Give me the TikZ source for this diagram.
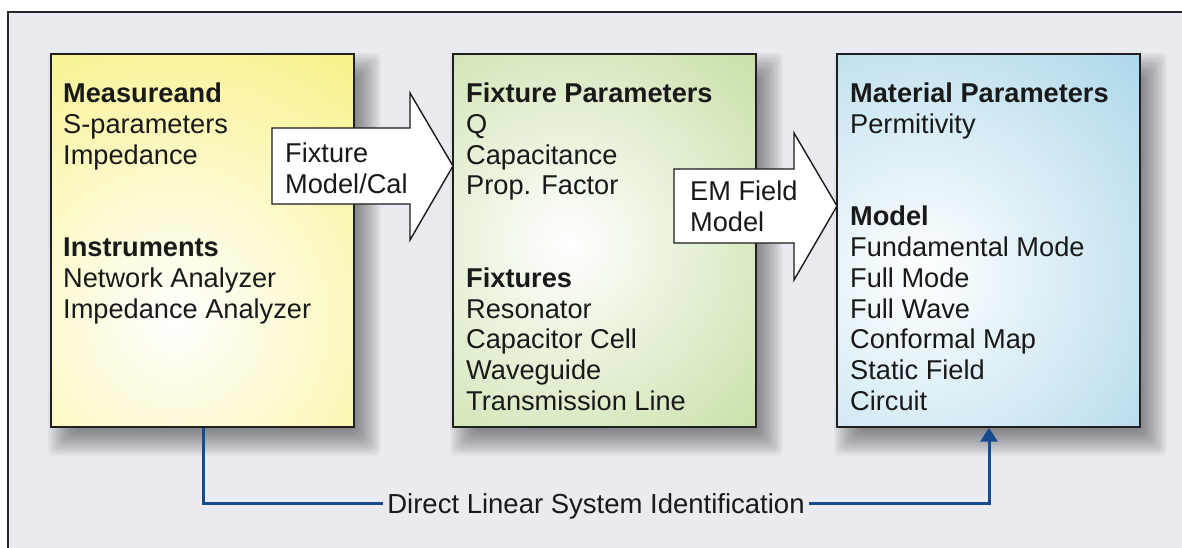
\documentclass[tikz,border=0pt]{standalone}
\usepackage{fontspec}
\setmainfont{Liberation Sans}
\usetikzlibrary{arrows.meta,calc}
\definecolor{bgcol}{RGB}{233,235,240}
\definecolor{ycol}{RGB}{247,240,122}
\definecolor{gcol}{RGB}{182,213,138}
\definecolor{bcol}{RGB}{160,209,230}
\definecolor{conncol}{RGB}{22,76,142}
\definecolor{framecol}{RGB}{40,40,40}
\pgfdeclarelayer{back}
\pgfdeclarelayer{shadowlayer}
\pgfsetlayers{back,shadowlayer,main}
\tikzset{
  box/.style={draw=black!88, line width=1.7pt, rectangle, inner sep=0pt, anchor=north west,
    minimum width=303pt, minimum height=373pt},
  shadebox/.style n args={3}{box, fill=#1, path picture={
    \shade[inner color=white, outer color=#1] ($(path picture bounding box.north west)+(#2,#3)$) circle (360);}},
  shadowlayerfill/.style={fill=black!80, opacity=0.05, rounded corners=6pt},
  boxtxt/.style={anchor=north west, align=left, inner sep=0pt, font=\fontsize{27.2}{30.8}\selectfont, text=black!90},
  blockarrow/.style={draw=black!90, fill=white, line width=1.4pt, line join=miter},
  arrtxt/.style={anchor=base west, align=left, inner sep=0pt, font=\fontsize{27.2}{30.8}\selectfont, text=black!90},
  conn/.style={draw=conncol, line width=3pt},
  lbl/.style={font=\fontsize{27.5}{32}\selectfont, inner xsep=4pt, inner ysep=0pt, text height=19.5pt, text depth=0pt, text=black!90}
}
\newcommand\mydropshadow[1]{%
  \begin{pgfonlayer}{shadowlayer}
    \foreach \e in {-12,-10,...,14}{
      \fill[shadowlayerfill] ($(#1.north west)+(12-\e,14-\e)$) rectangle ($(#1.south east)+(12+\e,14+\e)$);
    }
  \end{pgfonlayer}}
\begin{document}
\begin{tikzpicture}[x=1pt,y=-1pt]
\useasboundingbox (0,0) rectangle (1182,547);
\begin{pgfonlayer}{back}
\fill[white] (0,0) rectangle (1182,547);
\draw[framecol, line width=1.6pt, fill=bgcol] (8,12) rectangle (1200,570);
\end{pgfonlayer}
% boxes
\node[shadebox={ycol}{125}{265}] (yel) at (50,53) {};
\node[shadebox={gcol}{115}{190}] (grn) at (452,53) {};
\node[shadebox={bcol}{85}{220}] (blu) at (836,53) {};
\mydropshadow{yel}
\mydropshadow{grn}
\mydropshadow{blu}
% box texts
\node[boxtxt] (ytxt) at (63,82.5) {\textbf{Measureand}\\S-parameters\\Impedance\\[61.6pt]\textbf{Instruments}\\Network Analyzer\\Impedance Analyzer};
\node[boxtxt] (gtxt) at (466,82.5) {\textbf{Fixture Parameters}\\Q\\Capacitance\\Prop. Factor\\[61.6pt]\textbf{Fixtures}\\Resonator\\Capacitor Cell\\Waveguide\\Transmission Line};
\node[boxtxt] (btxt) at (850,82.5) {\textbf{Material Parameters}\\Permitivity\\[61.6pt]\textbf{Model}\\Fundamental Mode\\Full Mode\\Full Wave\\Conformal Map\\Static Field\\Circuit};
% block arrows
\draw[blockarrow] (272,128) -- (410,128) -- (410,93) -- (453,166) -- (410,240) -- (410,204) -- (272,204) -- cycle;
\node[arrtxt] (a1) at (285,193) {Fixture\\Model/Cal};
\draw[blockarrow] (674,169) -- (794,169) -- (794,133) -- (837,206) -- (794,280) -- (794,243) -- (674,243) -- cycle;
\node[arrtxt] (a2) at (690,231.5) {EM Field\\Model};
% bottom connector
\node[lbl, anchor=base] (dlsi) at (596,513.5) {Direct Linear System Identification};
\draw[conn] ([xshift=153pt]yel.south west) |- (dlsi.west);
\draw[conn, -{Triangle[length=14pt,width=17pt]}] (dlsi.east) -| ([xshift=153pt]blu.south west);
\end{tikzpicture}
\end{document}
